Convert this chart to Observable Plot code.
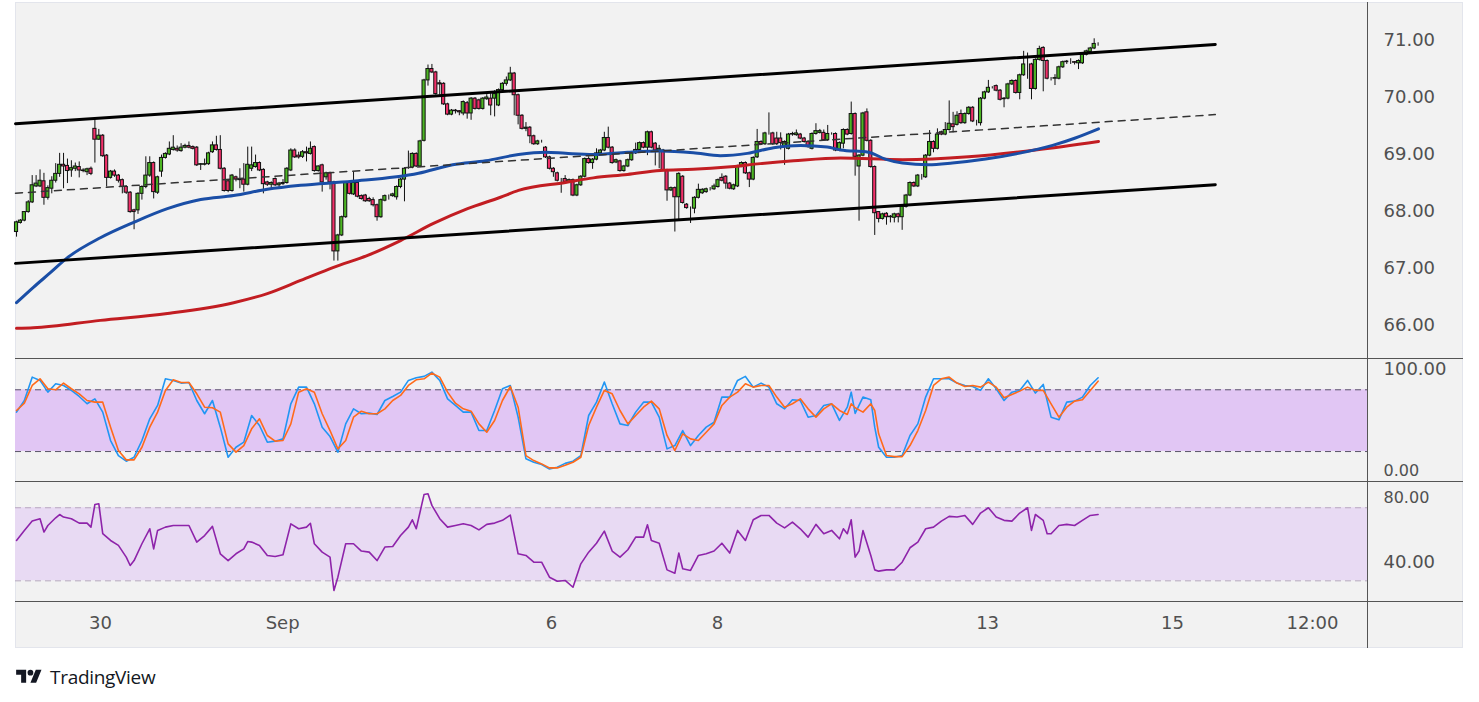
<!DOCTYPE html>
<html>
<head>
<meta charset="utf-8">
<script src="https://cdn.jsdelivr.net/npm/d3@7"></script>
<script src="https://cdn.jsdelivr.net/npm/@observablehq/plot@0.6"></script>
<style>
  html, body { margin: 0; padding: 0; background: #ffffff; }
  body { width: 1479px; height: 702px; position: relative; overflow: hidden; font-family: "DejaVu Sans", sans-serif; }
  #frame { position: absolute; left: 15px; top: 2px; width: 1448px; height: 646px; background: #f2f2f2; border: 1px solid #e3e5ec; box-sizing: border-box; }
  .hsep { position: absolute; left: 15px; width: 1448px; height: 1px; background: #555; }
  #vsep { position: absolute; left: 1367px; top: 2px; width: 1px; height: 646px; background: #555; }
  .panel { position: absolute; left: 0; }
  .panel svg { overflow: visible; }
  #logo { position: absolute; left: 15px; top: 664px; display: flex; align-items: center; gap: 7px; color: #131722; font-family: "Open Sans", "DejaVu Sans", sans-serif; font-size: 19px; font-weight: 500; letter-spacing: -0.3px; }
</style>
</head>
<body>
<div id="frame"></div>
<div class="panel" id="main" style="top:0px"></div>
<div class="panel" id="stoch" style="top:358px"></div>
<div class="panel" id="rsi" style="top:481px"></div>
<div class="hsep" style="top:358px"></div>
<div class="hsep" style="top:481px"></div>
<div class="hsep" style="top:601px"></div>
<div id="vsep"></div>
<div id="logo">
  <svg width="28" height="20" viewBox="0 0 36 28"><path d="M14 22H7V11H0V4h14v18zM28 22h-8l7.5-18h8L28 22z" fill="#131722"/><circle cx="20" cy="8" r="4" fill="#131722"/></svg>
  <span>TradingView</span>
</div>
<script>
// ---------- DATA (hourly bars, bar index 0..276) ----------
const open = [
67.64,67.80,67.84,67.99,68.16,68.44,68.44,68.53,68.24,68.40,
68.54,68.66,68.82,68.80,68.72,68.75,68.78,68.72,68.69,68.75,
69.45,69.26,69.33,68.98,68.59,68.70,68.63,68.55,68.43,68.33,
68.02,68.02,68.31,68.43,68.63,68.85,68.33,68.70,68.94,69.00,
69.08,69.10,69.06,69.12,69.15,69.13,69.12,68.82,68.82,68.83,
69.04,69.16,69.08,68.75,68.53,68.36,68.60,68.56,68.56,68.47,
68.75,68.78,68.85,68.73,68.51,68.47,68.57,68.46,68.48,68.50,
68.72,69.07,68.98,68.96,69.04,69.01,69.13,68.71,68.81,68.60,
68.67,68.51,67.30,67.58,67.90,68.50,68.30,68.50,68.27,68.28,
68.22,68.20,68.11,67.90,68.19,68.27,68.27,68.25,68.43,68.56,
68.77,68.77,69.01,68.79,69.24,70.30,70.50,70.44,70.25,70.24,
69.88,69.70,69.77,69.76,69.72,69.90,69.72,69.98,69.95,69.80,
69.97,69.98,69.98,69.86,70.13,70.24,70.30,70.42,70.04,69.68,
69.45,69.47,69.32,69.18,69.23,69.12,68.95,68.75,68.67,68.54,
68.57,68.52,68.55,68.28,68.46,68.61,68.92,68.85,68.91,69.02,
69.07,69.29,69.12,68.86,68.88,68.71,68.79,68.90,69.02,69.08,
69.20,69.12,69.39,69.19,69.07,69.07,68.72,68.37,68.41,68.25,
68.61,68.12,68.06,68.05,68.24,68.32,68.34,68.38,68.39,68.43,
68.59,68.61,68.49,68.39,68.44,68.79,68.85,68.67,68.56,68.95,
69.22,69.18,69.37,69.37,69.28,69.28,69.13,69.10,69.35,69.34,
69.35,69.28,69.22,69.10,69.36,69.38,69.38,69.25,69.36,69.36,
69.07,69.19,69.43,69.36,69.71,68.79,68.98,69.74,69.24,68.78,
67.99,67.87,67.96,67.90,67.89,67.95,67.90,68.08,68.28,68.50,
68.44,68.63,68.60,68.98,69.22,69.10,69.39,69.35,69.43,69.53,
69.52,69.71,69.55,69.71,69.82,69.58,69.55,69.98,70.09,70.17,
70.20,70.12,69.97,69.98,70.23,70.29,70.08,70.39,70.58,70.58,
70.15,70.66,70.87,70.64,70.33,70.33,70.33,70.53,70.62,70.63,
70.62,70.60,70.60,70.75,70.80,70.86,70.93];
const high = [
67.83,67.86,68.00,68.19,68.63,68.63,68.73,68.67,68.45,68.61,
68.84,69.02,69.02,68.92,68.89,68.85,68.87,68.75,68.76,68.78,
69.61,69.44,69.35,69.00,68.72,68.73,68.65,68.57,68.45,68.35,
68.04,68.33,68.45,68.96,68.96,68.87,68.62,68.99,69.03,69.22,
69.33,69.15,69.19,69.18,69.22,69.15,69.14,68.84,68.92,69.04,
69.22,69.32,69.33,68.77,68.55,68.65,68.62,68.75,68.84,69.13,
69.13,68.99,68.87,68.75,68.53,68.52,68.59,68.51,68.56,68.77,
69.10,69.10,69.04,69.07,69.13,69.22,69.15,68.80,68.83,68.69,
68.69,68.53,67.60,67.92,68.52,68.52,68.69,68.52,68.29,68.30,
68.25,68.24,68.13,68.22,68.29,68.29,68.32,68.45,68.58,68.77,
69.06,69.03,69.03,69.25,70.32,70.57,70.58,70.46,70.30,70.26,
69.90,69.79,69.79,69.77,69.94,69.93,70.00,70.00,69.97,70.00,
70.05,70.09,70.12,70.15,70.26,70.36,70.53,70.44,70.06,69.70,
69.56,69.49,69.34,69.25,69.25,69.14,68.97,68.77,68.69,68.58,
68.63,68.57,68.57,68.48,68.63,68.94,68.96,68.93,69.10,69.09,
69.39,69.48,69.14,68.92,68.90,68.81,68.92,69.04,69.20,69.22,
69.22,69.41,69.41,69.21,69.16,69.09,68.74,68.43,68.43,68.68,
68.63,68.14,68.08,68.26,68.48,68.40,68.41,68.42,68.48,68.57,
68.66,68.63,68.51,68.48,68.81,68.87,68.87,68.69,68.96,69.44,
69.24,69.39,69.73,69.39,69.39,69.38,69.24,69.37,69.39,69.43,
69.37,69.30,69.24,69.38,69.54,69.44,69.43,69.51,69.38,69.38,
69.22,69.45,69.45,69.92,69.73,69.00,69.74,69.80,69.26,68.80,
68.00,67.97,67.98,67.93,67.97,67.97,68.10,68.30,68.52,68.52,
68.65,68.65,69.00,69.42,69.24,69.45,69.41,69.56,69.94,69.74,
69.75,69.78,69.73,69.84,69.84,69.60,70.00,70.11,70.30,70.19,
70.22,70.14,70.00,70.25,70.31,70.31,70.41,70.81,70.78,70.60,
70.68,70.90,70.89,70.66,70.35,70.40,70.55,70.64,70.65,70.68,
70.63,70.66,70.77,70.83,70.88,71.03,70.96];
const low = [
67.55,67.78,67.82,67.97,68.14,68.42,68.42,68.11,68.20,68.31,
68.50,68.60,68.40,68.49,68.60,68.70,68.59,68.68,68.63,68.63,
68.85,69.25,68.95,68.43,68.57,68.60,68.50,68.31,68.30,67.97,
67.68,67.95,68.20,68.40,68.60,68.22,68.30,68.60,68.92,68.98,
69.06,69.04,69.04,69.10,69.10,69.08,68.79,68.72,68.80,68.81,
69.02,69.06,68.73,68.34,68.33,68.34,68.52,68.40,68.34,68.45,
68.70,68.76,68.70,68.31,68.44,68.40,68.44,68.40,68.46,68.48,
68.70,68.93,68.92,68.93,68.87,68.99,68.69,68.69,68.34,68.55,
68.38,67.13,67.13,67.56,67.88,68.29,68.28,68.24,68.20,68.16,
68.16,68.08,67.83,67.88,68.17,68.20,68.25,68.20,68.40,68.17,
68.74,68.75,68.77,68.77,69.22,70.20,70.42,70.04,70.04,69.86,
69.68,69.68,69.71,69.68,69.68,69.62,69.60,69.78,69.78,69.78,
69.95,69.68,69.66,69.84,70.10,70.20,70.28,69.68,69.52,69.43,
69.40,69.19,69.16,69.16,69.20,68.93,68.73,68.60,68.52,68.32,
68.49,68.50,68.26,68.26,68.44,68.59,68.83,68.74,68.89,68.98,
69.05,69.10,68.83,68.84,68.69,68.69,68.77,68.88,69.00,69.06,
69.10,68.98,69.10,68.80,68.75,68.70,68.18,68.35,67.64,67.85,
68.13,68.04,67.79,67.96,68.22,68.30,68.32,68.36,68.37,68.41,
68.52,68.39,68.38,68.37,68.42,68.77,68.65,68.42,68.54,68.93,
69.16,69.16,69.34,69.16,69.16,69.08,68.81,69.08,69.32,69.32,
69.26,69.20,69.11,69.08,69.34,69.36,69.23,69.23,69.34,69.05,
69.05,69.10,69.33,69.34,68.62,67.83,68.96,69.22,68.76,67.58,
67.80,67.85,67.76,67.80,67.80,67.80,67.67,68.06,68.26,68.42,
68.42,68.55,68.58,68.96,69.03,69.08,69.33,69.33,69.41,69.38,
69.50,69.53,69.53,69.69,69.56,69.50,69.50,69.96,70.07,70.15,
70.10,69.94,69.82,69.96,70.21,70.06,69.96,70.37,70.32,69.96,
70.13,70.64,70.10,70.31,70.29,70.21,70.31,70.51,70.58,70.58,
70.57,70.49,70.58,70.73,70.78,70.84,70.90];
const close = [
67.81,67.84,67.99,68.16,68.46,68.49,68.54,68.24,68.41,68.54,
68.66,68.82,68.79,68.71,68.76,68.79,68.72,68.71,68.74,68.66,
69.26,69.33,68.97,68.59,68.70,68.63,68.54,68.43,68.33,67.99,
67.99,68.31,68.43,68.63,68.85,68.34,68.60,68.94,69.01,69.10,
69.12,69.07,69.12,69.15,69.12,69.10,68.81,68.83,68.83,69.02,
69.16,69.08,68.75,68.36,68.36,68.63,68.56,68.55,68.47,68.82,
68.81,68.85,68.72,68.48,68.47,68.50,68.46,68.49,68.50,68.75,
69.07,68.95,68.95,69.04,69.02,69.10,68.71,68.79,68.51,68.67,
68.51,67.30,67.58,67.90,68.50,68.31,68.50,68.26,68.22,68.18,
68.18,68.11,67.90,68.20,68.27,68.27,68.30,68.43,68.56,68.75,
68.77,69.01,68.79,69.23,70.30,70.50,70.44,70.06,70.23,69.88,
69.70,69.77,69.76,69.74,69.92,69.72,69.98,69.80,69.80,69.98,
70.00,69.86,70.06,70.13,70.24,70.30,70.42,70.04,69.68,69.45,
69.47,69.32,69.18,69.23,69.23,68.95,68.75,68.69,68.54,68.54,
68.52,68.55,68.28,68.46,68.61,68.92,68.85,68.91,69.02,69.07,
69.29,69.12,68.85,68.90,68.71,68.79,68.90,69.02,69.08,69.20,
69.12,69.39,69.12,69.07,69.10,68.72,68.37,68.41,68.25,68.66,
68.15,68.06,68.06,68.24,68.38,68.38,68.39,68.38,68.44,68.55,
68.54,68.49,68.40,68.46,68.79,68.85,68.67,68.56,68.94,69.22,
69.18,69.37,69.37,69.18,69.18,69.20,69.22,69.35,69.36,69.37,
69.28,69.22,69.13,69.36,69.41,69.41,69.25,69.36,69.36,69.07,
69.20,69.43,69.35,69.71,68.96,68.98,69.72,69.24,68.78,67.97,
67.87,67.95,67.90,67.91,67.95,67.90,68.08,68.28,68.50,68.44,
68.63,68.63,68.98,69.22,69.10,69.35,69.35,69.43,69.54,69.48,
69.68,69.55,69.71,69.82,69.58,69.58,69.98,70.09,70.17,70.17,
70.12,69.96,69.98,70.23,70.29,70.08,70.39,70.58,70.58,70.15,
70.66,70.85,70.64,70.33,70.33,70.34,70.53,70.62,70.63,70.63,
70.61,70.64,70.75,70.81,70.86,70.94,70.93];

// moving averages
const ma50Idx = [0,4.3,8.7,13.0,21.4,29.9,38.5,47.0,55.4,64.0,72.5,85.7,102.6,111.3,119.7,128.1,135.0,140.1,147.2,155.9,164.3,172.7,179.6,186.5,193.2,200.1,206.9,210.3,217.4,221.7,226.1,232.7,238.8,247.3,255.7,264.4,270.2,276.1];
const ma50 = [66.40,66.67,66.93,67.19,67.54,67.81,68.05,68.21,68.28,68.39,68.46,68.53,68.67,68.82,68.89,69.00,69.04,69.02,69.00,69.04,69.06,69.03,68.98,69.02,69.12,69.16,69.13,69.08,69.04,68.92,68.85,68.82,68.85,68.92,69.02,69.16,69.29,69.45];
const ma200Idx = [0,4.3,21.4,38.5,55.4,64.0,72.5,80.9,89.6,98.0,106.4,115.1,123.5,128.1,140.1,147.2,155.9,164.3,172.7,181.4,189.8,198.3,210.3,226.1,242.9,260.0,276.1];
const ma200 = [65.95,65.96,66.09,66.21,66.40,66.56,66.79,67.02,67.23,67.49,67.79,68.05,68.25,68.37,68.51,68.59,68.65,68.72,68.74,68.78,68.84,68.89,68.94,68.91,68.96,69.08,69.23];

// channel (drawn trend lines)
const chanIdx = [-0.26, 305.9];
const chanUpper = [69.54, 70.93];
const chanMid = [68.32, 69.70];
const chanLower = [67.09, 68.47];

// stochastic RSI %K / %D
const stochIdx = [0,2,4,6,8,10,12,14,16,18,20,22,24,26,28,30,32,34,36,38,40,42,44,46,48,50,52,54,56,58,60,62,64,66,68,70,72,74,76,78,80,82,84,86,88,90,92,94,96,98,100,102,104,106,108,110,112,114,116,118,120,122,124,126,128,130,132,134,136,138,140,142,144,146,148,150,152,154,156,158,160,162,164,166,168,170,172,174,176,178,180,182,184,186,188,190,192,194,196,198,200,202,204,206,208,210,212,213,214,216,218,219,220,222,224,226,228,230,232,234,236,238,240,242,244,246,248,250,252,254,256,258,260,262,264,266,268,270,272,274,276];
const stochK = [58.3,69.6,92.3,89.1,77.7,85.8,84.2,79.4,73.5,66.4,71.2,58.3,30.7,16.1,10.6,14.5,30.7,51.8,64.8,90.7,89.1,86.5,87.1,69.6,56.7,69.6,43.7,14.5,24.2,29.1,55.0,45.3,29.1,30.1,32.3,66.4,82.6,82.6,66.4,43.7,34.6,19.4,46.9,61.5,56.7,57.3,56.0,69.6,73.5,77.7,89.1,91.7,93.0,97.2,89.1,71.2,64.8,58.3,58.3,40.4,40.4,59.9,81.0,84.2,53.4,12.9,9.6,7.4,3.1,4.8,8.5,10.6,16.1,55.0,68.0,87.5,66.4,46.9,45.3,58.3,68.0,68.0,53.4,22.6,25.8,40.4,25.8,35.6,43.7,48.5,72.9,72.9,89.1,93.0,82.6,86.5,82.6,66.4,61.5,70.3,69.6,53.4,55.0,64.8,66.4,50.2,63.1,77.7,57.0,72.9,70.3,43.7,24.2,14.5,14.5,16.1,35.6,46.9,72.9,90.7,90.7,90.7,86.5,84.2,83.2,79.4,90.7,81.0,69.6,77.7,79.4,89.1,76.8,85.2,53.4,50.8,68.0,69.0,72.9,84.2,91.7];
const stochD = [59.9,67.0,84.2,90.7,81.0,80.0,86.5,81.0,76.1,69.6,68.0,68.0,43.7,21.0,11.9,11.9,24.2,43.7,58.3,79.4,89.7,87.1,87.1,76.1,63.1,62.5,58.3,27.5,19.4,25.8,42.1,51.8,35.6,30.1,30.7,46.9,77.7,81.0,77.7,56.7,40.4,22.6,30.7,53.4,59.2,56.7,56.7,61.5,69.6,74.5,84.2,89.7,90.7,96.2,92.3,77.7,67.0,61.5,59.2,46.9,38.8,50.2,69.6,83.2,63.1,16.1,11.2,8.0,4.1,4.1,6.7,9.6,14.5,45.3,63.1,79.4,76.1,59.9,46.9,55.0,63.1,69.0,61.5,35.6,21.0,37.2,32.3,30.7,38.8,46.9,64.8,72.9,77.7,85.8,82.6,84.2,84.2,72.9,63.1,66.4,71.2,61.5,53.4,61.5,66.4,59.9,56.0,66.4,62.5,58.3,66.4,59.9,37.2,16.1,15.1,15.1,25.8,40.4,59.9,84.2,90.7,92.3,86.5,83.2,84.2,82.6,87.5,82.6,72.2,75.5,78.7,82.6,79.4,79.4,66.4,53.4,63.1,69.0,70.3,79.4,88.4];
const stochBand = [20, 80];
const stochTicks = [0, 100];

// RSI
const rsiIdx = [0,2,4,6,7,8,10,11,12,14,16,18,19,20,21,22,24,26,28,29,30,32,34,35,36,38,40,42,44,46,48,50,52,54,56,58,59,60,62,64,66,68,70,72,74,75,76,78,80,81,82,84,86,88,90,92,94,96,98,100,101,102,104,105,106,108,110,112,114,116,118,120,122,124,126,128,130,132,134,136,138,140,142,144,146,148,150,152,154,156,158,160,161,162,164,166,168,169,170,172,174,176,178,180,182,184,186,188,190,192,194,196,198,200,202,204,206,208,210,211,212,213,214,215,216,218,219,220,222,224,226,228,230,232,234,236,238,240,242,244,246,248,250,252,254,256,258,259,260,262,263,264,266,268,270,272,274,276];
const rsi = [52.1,57.6,62.7,64.0,56.7,60.3,64.5,66.3,64.9,64.0,61.6,61.6,59.4,71.8,72.2,55.8,52.1,49.4,43.0,38.4,41.1,50.3,58.5,47.5,57.6,59.4,60.3,60.3,60.3,51.2,54.8,59.8,44.8,41.1,44.8,47.5,51.5,51.2,49.4,43.9,43.3,44.3,61.2,58.5,59.4,61.5,50.3,45.7,43.0,24.7,32.0,50.3,50.3,46.3,45.7,41.1,48.5,48.8,54.8,59.4,63.4,58.5,77.3,77.7,71.3,64.0,59.4,60.3,61.2,60.3,57.9,60.9,61.6,63.1,66.0,44.8,43.9,40.2,40.2,32.0,29.8,30.2,26.5,39.3,45.7,50.6,57.2,46.3,43.0,47.0,53.9,53.9,60.7,52.1,50.6,36.0,34.2,45.2,36.6,35.7,43.9,44.8,46.3,50.6,45.2,57.6,52.1,63.4,65.8,65.8,61.6,59.0,62.1,58.5,53.9,60.9,55.8,57.6,53.0,58.5,55.8,63.4,43.0,46.3,57.5,43.9,36.0,35.3,36.0,36.0,40.2,48.1,51.2,58.5,59.4,62.7,65.3,64.9,65.8,60.9,67.1,70.0,64.9,63.1,62.7,67.1,70.0,57.6,66.3,63.1,55.8,55.8,60.3,60.9,60.3,63.1,65.8,66.3];
const rsiBand = [30, 70];
const rsiTicks = [40, 80];

// axes
const priceTicks = [66, 67, 68, 69, 70, 71];
const xTickPos = [21.4, 67.9, 136.5, 178.9, 247.8, 295.0, 330.7];
const xTickLabels = ["30", "Sep", "6", "8", "13", "15", "12:00"];

// ---------- CHART ----------
const UP = "#4cb523", DOWN = "#f2306a";
const xDomain = [-0.26, 345.0];
const bars = close.map((c, i) => ({i, o: open[i], h: high[i], l: low[i], c}));
const zipXY = (xs, ys) => xs.map((x, k) => ({x, y: ys[k]}));
const style = {background: "transparent", fontFamily: "DejaVu Sans, sans-serif", fontSize: "18px", color: "#505050", overflow: "visible"};
const base = {width: 1479, marginLeft: 15, marginRight: 111, marginTop: 0, style};
const fmt = d => d.toFixed(2);

const main = Plot.plot({
  ...base, height: 358, marginBottom: 0,
  x: {domain: xDomain, axis: null},
  y: {domain: [65.421, 71.702], axis: "right", ticks: priceTicks, tickFormat: fmt, tickSize: 0, tickPadding: 15, label: null},
  marks: [
    Plot.ruleX(bars, {x: "i", y1: "l", y2: "h", stroke: "#111", strokeWidth: 1}),
    Plot.rect(bars, {x1: d => d.i - 0.4, x2: d => d.i + 0.4, y1: "o", y2: "c", fill: d => d.c >= d.o ? UP : DOWN, stroke: "#111", strokeWidth: 1}),
    Plot.line(zipXY(ma200Idx, ma200), {x: "x", y: "y", stroke: "#c21d22", strokeWidth: 3, curve: "monotone-x"}),
    Plot.line(zipXY(ma50Idx, ma50), {x: "x", y: "y", stroke: "#1a4ea6", strokeWidth: 3, curve: "monotone-x"}),
    Plot.line(zipXY(chanIdx, chanMid), {x: "x", y: "y", stroke: "#333", strokeWidth: 1.5, strokeDasharray: "7,6"}),
    Plot.line(zipXY(chanIdx, chanUpper), {x: "x", y: "y", stroke: "#000", strokeWidth: 3}),
    Plot.line(zipXY(chanIdx, chanLower), {x: "x", y: "y", stroke: "#000", strokeWidth: 3})
  ]
});
document.getElementById("main").append(main);

const stoch = Plot.plot({
  ...base, height: 123, marginBottom: 0,
  x: {domain: xDomain, axis: null},
  y: {domain: [-9.1, 110.4], axis: "right", ticks: stochTicks, tickFormat: fmt, tickSize: 0, tickPadding: 15, label: null},
  marks: [
    Plot.rect([stochBand], {x1: () => xDomain[0], x2: () => xDomain[1], y1: d => d[0], y2: d => d[1], fill: "#e1c6f4"}),
    Plot.ruleY(stochBand, {stroke: "#5a5468", strokeWidth: 1, strokeDasharray: "6,4"}),
    Plot.line(zipXY(stochIdx, stochK), {x: "x", y: "y", stroke: "#2196f3", strokeWidth: 1.6}),
    Plot.line(zipXY(stochIdx, stochD), {x: "x", y: "y", stroke: "#ff6a1a", strokeWidth: 1.6})
  ]
});
document.getElementById("stoch").append(stoch);

const rsiPlot = Plot.plot({
  ...base, height: 166, marginBottom: 46,
  x: {domain: xDomain, axis: "bottom", ticks: xTickPos, tickFormat: d => xTickLabels[xTickPos.indexOf(d)], tickSize: 0, tickPadding: 15, label: null},
  y: {domain: [18.69, 84.37], axis: "right", ticks: rsiTicks, tickFormat: fmt, tickSize: 0, tickPadding: 15, label: null},
  marks: [
    Plot.rect([rsiBand], {x1: () => xDomain[0], x2: () => xDomain[1], y1: d => d[0], y2: d => d[1], fill: "#e8daf3"}),
    Plot.ruleY(rsiBand, {stroke: "#b7a9bf", strokeWidth: 1, strokeDasharray: "6,4"}),
    Plot.line(zipXY(rsiIdx, rsi), {x: "x", y: "y", stroke: "#8e24aa", strokeWidth: 1.6})
  ]
});
document.getElementById("rsi").append(rsiPlot);

// keep the adjacent stoch "0.00" and RSI "80.00" labels from colliding
d3.select(stoch).selectAll("text").filter(function() { return this.textContent === "0.00"; })
  .attr("dy", "-0.05em").style("font-size", "16px");
d3.select(rsiPlot).selectAll("text").filter(function() { return this.textContent === "80.00"; })
  .attr("dy", "0.55em").style("font-size", "16px");
</script>
</body>
</html>
